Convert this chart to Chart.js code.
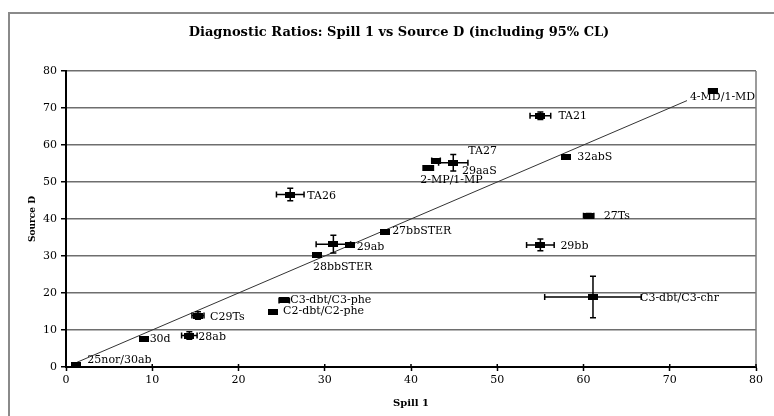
<!DOCTYPE html>
<html><head><meta charset="utf-8">
<script src="https://cdn.jsdelivr.net/npm/chart.js@4"></script>
<style>html,body{margin:0;padding:0;background:#fff}#wrap{width:774px;height:416px;position:relative}</style>
</head><body><div id="wrap"><canvas id="c" width="774" height="416"></canvas></div>
<script>
// ---- data ----
const chartTitle = 'Diagnostic Ratios: Spill 1 vs Source D (including 95% CL)';
const names = ["25nor/30ab","30d","28ab","C29Ts","C2-dbt/C2-phe","C3-dbt/C3-phe","28bbSTER","","29ab","27bbSTER","TA26","2-MP/1-MP","29aaS","TA27","TA21","32abS","4-MD/1-MD","27Ts","29bb","C3-dbt/C3-chr"];
const spill1 = [1.2,9.0,14.3,15.3,24.0,25.3,29.1,31.0,32.9,37.0,26.0,42.0,42.9,44.9,55.0,58.0,75.0,60.6,55.0,61.1];
const sourceD = [0.6,7.6,8.5,13.9,15.0,18.0,30.4,33.2,32.9,36.6,46.6,53.8,55.8,55.2,67.9,56.8,74.5,40.9,33.0,18.9];
const spill1Err = [0,0,0.9,0.7,0,0.6,0,2.0,0,0,1.6,0.6,0.5,1.7,1.2,0,0.5,0.6,1.6,5.6];
const sourceDErr = [0,0,1.0,1.0,0,0.5,0,2.4,0,0,1.7,0,0.5,2.2,1.0,0,0,0.6,1.6,5.6];
const lineX = [1, 72];
const lineY = [1, 72];
const axisMin = 0, axisMax = 80, axisStep = 10;

// ---- styling (not data) ----
const SERIF = "'DejaVu Serif', 'Liberation Serif', serif";
const labelOffsets = {
  "25nor/30ab":[11,-5],"30d":[6,0],"28ab":[9,2],"C29Ts":[12,2],"C2-dbt/C2-phe":[10,0],
  "C3-dbt/C3-phe":[6,0],"28bbSTER":[-4,13],"29ab":[7,2],"27bbSTER":[7,0],"TA26":[17,2],
  "2-MP/1-MP":[-8,12],"29aaS":[26,11],"TA27":[15,-12],"TA21":[18,0],"32abS":[11,0],
  "4-MD/1-MD":[-23,6],"27Ts":[15,0],"29bb":[20,1],"C3-dbt/C3-chr":[47,1]
};
const marker = document.createElement('canvas');
marker.width = 10; marker.height = 6;
(function(){const m = marker.getContext('2d'); m.fillStyle = '#000'; m.fillRect(0,0,10,6);})();

const points = spill1.map((x,i)=>({x:x, y:sourceD[i]}));
const linePts = lineX.map((x,i)=>({x:x, y:lineY[i]}));

const decorPlugin = {
  id: 'decor',
  beforeDraw(chart){
    const ctx = chart.ctx;
    ctx.save();
    ctx.fillStyle = '#fff';
    ctx.fillRect(0,0,chart.width,chart.height);
    ctx.strokeStyle = '#8a8a8a';
    ctx.lineWidth = 2;
    ctx.beginPath();
    ctx.moveTo(9, 420); ctx.lineTo(9, 13); ctx.lineTo(780, 13);
    ctx.stroke();
    ctx.fillStyle = '#000';
    ctx.font = 'bold 13px ' + SERIF;
    ctx.textAlign = 'center';
    ctx.textBaseline = 'middle';
    ctx.fillText(chartTitle, 399, 33);
    ctx.restore();
  },
  beforeDatasetsDraw(chart){
    const ctx = chart.ctx, a = chart.chartArea;
    ctx.save();
    ctx.strokeStyle = '#7a7a7a';
    ctx.lineWidth = 1.5;
    ctx.beginPath();
    ctx.moveTo(a.right, a.top); ctx.lineTo(a.right, a.bottom);
    ctx.stroke();
    const xs = chart.scales.x;
    ctx.strokeStyle = '#000'; ctx.lineWidth = 1.5;
    xs.ticks.forEach(t => {
      const px = xs.getPixelForValue(t.value);
      ctx.beginPath(); ctx.moveTo(px, a.bottom - 3); ctx.lineTo(px, a.bottom); ctx.stroke();
    });
    ctx.restore();
  },
  afterDatasetsDraw(chart){
    const ctx = chart.ctx, xs = chart.scales.x, ys = chart.scales.y;
    ctx.save();
    ctx.strokeStyle = '#000';
    ctx.lineWidth = 1.5;
    const cap = 3;
    spill1.forEach((xv,i)=>{
      const px = xs.getPixelForValue(xv), py = ys.getPixelForValue(sourceD[i]);
      if (spill1Err[i] > 0){
        const l = xs.getPixelForValue(xv - spill1Err[i]), r = xs.getPixelForValue(xv + spill1Err[i]);
        ctx.beginPath();
        ctx.moveTo(l, py); ctx.lineTo(r, py);
        ctx.moveTo(l, py-cap); ctx.lineTo(l, py+cap);
        ctx.moveTo(r, py-cap); ctx.lineTo(r, py+cap);
        ctx.stroke();
      }
      if (sourceDErr[i] > 0){
        const t = ys.getPixelForValue(sourceD[i] + sourceDErr[i]), b = ys.getPixelForValue(sourceD[i] - sourceDErr[i]);
        ctx.beginPath();
        ctx.moveTo(px, t); ctx.lineTo(px, b);
        ctx.moveTo(px-cap, t); ctx.lineTo(px+cap, t);
        ctx.moveTo(px-cap, b); ctx.lineTo(px+cap, b);
        ctx.stroke();
      }
    });
    ctx.fillStyle = '#000';
    ctx.font = '11px ' + SERIF;
    ctx.textAlign = 'left';
    ctx.textBaseline = 'middle';
    names.forEach((n,i)=>{
      if (!n) return;
      const off = labelOffsets[n] || [8,0];
      const px = xs.getPixelForValue(spill1[i]), py = ys.getPixelForValue(sourceD[i]);
      ctx.fillText(n, px + off[0], py + off[1]);
    });
    ctx.restore();
  }
};

new Chart(document.getElementById('c'), {
  type: 'scatter',
  data: {
    datasets: [
      { type:'line', data: linePts, borderColor:'#333', borderWidth:1, pointRadius:0, fill:false, order:2 },
      { data: points, pointStyle: marker, pointRadius: 5, backgroundColor:'#000', borderColor:'#000', order:1 }
    ]
  },
  options: {
    responsive: false,
    animation: false,
    devicePixelRatio: 1,
    layout: { padding: { left: 20, right: 18, top: 71, bottom: 0 } },
    plugins: {
      legend: { display: false },
      tooltip: { enabled: false },
      title: { display: false }
    },
    scales: {
      x: {
        type: 'linear', min: axisMin, max: axisMax,
        ticks: { stepSize: axisStep, color:'#000', font:{ family: SERIF, size: 11 }, padding: 3, maxRotation:0 },
        grid: { drawOnChartArea: false, drawTicks: true, tickLength: 4, tickColor:'#000', tickWidth:1.5 },
        border: { color:'#000', width: 2 },
        title: { display: true, text: 'Spill 1', color:'#000', font:{ family: SERIF, size: 10, weight:'bold', lineHeight:1.2 }, padding:{ top:0, bottom:7 } },
        afterFit(s){ s.height = 49; }
      },
      y: {
        type: 'linear', min: axisMin, max: axisMax,
        ticks: { stepSize: axisStep, color:'#000', font:{ family: SERIF, size: 11 }, padding: 4 },
        grid: { color:'#6e6e6e', lineWidth: 1.5, tickLength: 5, tickColor:'#000', tickWidth: 1.5 },
        border: { color:'#000', width: 2 },
        title: { display: true, text: 'Source D', color:'#000', font:{ family: SERIF, size: 9, weight:'bold', lineHeight:1.2 }, padding:{ top:7, bottom:0 } },
        afterFit(s){ s.width = 46; }
      }
    }
  },
  plugins: [decorPlugin]
});
</script>
</body></html>
